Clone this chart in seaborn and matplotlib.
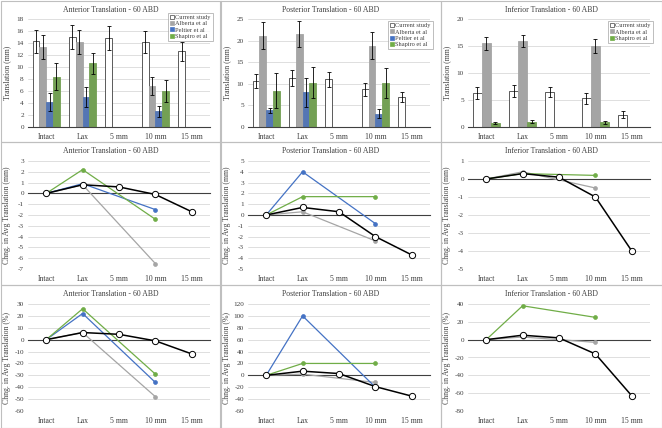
import numpy as np
import pandas as pd
import matplotlib
matplotlib.use("Agg")
import matplotlib.pyplot as plt
import seaborn as sns
from matplotlib.patches import Rectangle, Patch

# conditions along the x axis
categories = ["Intact", "Lax", "5 mm", "10 mm", "15 mm"]

# bar colours (Excel style) and line colours
bar_colours = {"Current study": "white", "Alberta et al": "#a5a5a5",
               "Peltier et al": "#4472c4", "Shapiro et al": "#70ad47"}
line_colours = {"Current study": "black", "Alberta et al": "#a5a5a5",
                "Peltier et al": "#4472c4", "Shapiro et al": "#70ad47"}

# ---- translation (mm), mean and error ----
ant_current = [14.3, 15.0, 14.8, 14.2, 12.6]
ant_current_err = [1.9, 2.0, 2.0, 1.8, 1.6]
ant_alberta = [13.4, 14.2, None, 6.9, None]
ant_alberta_err = [2.0, 2.0, None, 1.5, None]
ant_peltier = [4.1, 5.0, None, 2.6, None]
ant_peltier_err = [1.5, 1.7, None, 0.9, None]
ant_shapiro = [8.4, 10.6, None, 6.0, None]
ant_shapiro_err = [2.3, 1.8, None, 1.8, None]

post_current = [10.7, 11.4, 11.0, 8.7, 7.0]
post_current_err = [1.6, 1.8, 1.7, 1.5, 1.1]
post_alberta = [21.1, 21.5, None, 18.8, None]
post_alberta_err = [3.1, 3.0, None, 3.1, None]
post_peltier = [3.9, 8.0, None, 3.1, None]
post_peltier_err = [0.6, 3.4, None, 1.1, None]
post_shapiro = [8.4, 10.2, None, 10.2, None]
post_shapiro_err = [4.0, 3.6, None, 3.4, None]

inf_current = [6.3, 6.7, 6.5, 5.3, 2.3]
inf_current_err = [1.1, 1.1, 0.9, 1.0, 0.6]
inf_alberta = [15.5, 15.9, None, 15.0, None]
inf_alberta_err = [1.2, 1.1, None, 1.3, None]
inf_shapiro = [0.7, 1.0, None, 0.9, None]
inf_shapiro_err = [0.15, 0.25, None, 0.3, None]

# ---- change in average translation (mm) ----
ant_mm_current = [0, 0.8, 0.6, -0.1, -1.7]
ant_mm_alberta = [0, 0.8, None, -6.5, None]
ant_mm_peltier = [0, 0.9, None, -1.5, None]
ant_mm_shapiro = [0, 2.2, None, -2.4, None]

post_mm_current = [0, 0.7, 0.3, -2.0, -3.7]
post_mm_alberta = [0, 0.3, None, -2.4, None]
post_mm_peltier = [0, 4.0, None, -0.8, None]
post_mm_shapiro = [0, 1.7, None, 1.7, None]

inf_mm_current = [0, 0.3, 0.1, -1.0, -4.0]
inf_mm_alberta = [0, 0.4, None, -0.5, None]
inf_mm_shapiro = [0, 0.3, None, 0.2, None]

# ---- change in average translation (%) ----
ant_pct_current = [0, 6, 4.5, -1, -12]
ant_pct_alberta = [0, 6, None, -48, None]
ant_pct_peltier = [0, 22, None, -36, None]
ant_pct_shapiro = [0, 26, None, -29, None]

post_pct_current = [0, 7, 3, -19, -35]
post_pct_alberta = [0, 2, None, -12, None]
post_pct_peltier = [0, 100, None, -20, None]
post_pct_shapiro = [0, 20, None, 20, None]

inf_pct_current = [0, 5, 2, -16, -63]
inf_pct_alberta = [0, 3, None, -3, None]
inf_pct_shapiro = [0, 38, None, 25, None]

sns.set_theme(style="white")
plt.rcParams["font.family"] = ["Liberation Serif", "DejaVu Serif"]
plt.rcParams["axes.unicode_minus"] = False
TXT = "#404040"
AXC = "#404040"

W, H = 662, 428
fig = plt.figure(figsize=(W / 100, H / 100), dpi=100)

col_edges = [0.5, 220.5, 440.5, 661.5]
row_edges = [0.5, 142, 285, 427.5]
ax_tops = [19, 161, 304]
ax_bottoms = [127, 269, 411]


def make_ax(r, c):
    left = 28 + 220 * c
    return fig.add_axes([left / W, 1 - ax_bottoms[r] / H, 182 / W,
                         (ax_bottoms[r] - ax_tops[r]) / H])


def style_common(ax, r, c, title, ylabel, ylim, ystep):
    ax.set_ylim(*ylim)
    ax.set_yticks(np.arange(ylim[0], ylim[1] + ystep / 2, ystep))
    ax.yaxis.grid(True, color="#d9d9d9", lw=0.6)
    ax.set_axisbelow(True)
    for s in ["left", "top", "right"]:
        ax.spines[s].set_visible(False)
    ax.spines["bottom"].set_color(AXC)
    ax.spines["bottom"].set_linewidth(0.8)
    ax.tick_params(axis="y", length=0, labelsize=5.2, labelcolor=TXT, pad=3)
    ax.set_xlim(-0.5, len(categories) - 0.5)
    ax.set_xticks(np.arange(-0.5, len(categories), 1), minor=True)
    ax.set_xlabel("")
    ax.set_ylabel(ylabel, fontsize=5.6, color=TXT)
    ax.yaxis.set_label_coords(-(28 - 11) / 182, 0.5)
    cx = (col_edges[c] + col_edges[c + 1]) / 2
    fig.text(cx / W, 1 - (row_edges[r] + 9) / H, title, ha="center",
             va="center", fontsize=5.6, color=TXT)


def bar_panel(r, c, title, means, errs, ylim, ystep, anchor):
    ax = make_ax(r, c)
    names = list(means)
    rows = []
    for name in names:
        for cat, v in zip(categories, means[name]):
            if v is not None:
                rows.append({"Condition": cat, "Series": name, "Translation": v})
    df = pd.DataFrame(rows)
    sns.barplot(data=df, x="Condition", y="Translation", hue="Series",
                order=categories, hue_order=names, palette=bar_colours,
                width=0.75, errorbar=None, legend=False, linewidth=0.6, ax=ax)
    for name, cont in zip(names, ax.containers):
        for bar in cont:
            bar.set_edgecolor("#404040" if name == "Current study" else bar.get_facecolor())
            xc = bar.get_x() + bar.get_width() / 2
            idx = int(round(xc))
            ax.errorbar(xc, bar.get_height(), yerr=errs[name][idx], fmt="none",
                        ecolor="black", elinewidth=0.6, capsize=1.5, capthick=0.6)
    style_common(ax, r, c, title, "Translation (mm)", ylim, ystep)
    ax.set_xticks(range(len(categories)), categories)
    ax.tick_params(axis="x", which="major", length=0, labelsize=5.6,
                   labelcolor=TXT, pad=4)
    ax.tick_params(axis="x", which="minor", length=2.5, width=0.6,
                   direction="in", color=AXC)
    handles = [Patch(facecolor=bar_colours[n],
                     edgecolor="#404040" if n == "Current study" else bar_colours[n],
                     lw=0.5, label=n) for n in names]
    leg = ax.legend(handles=handles, loc="upper right", bbox_to_anchor=anchor,
                    fontsize=4.6, frameon=True, fancybox=False,
                    edgecolor="#a0a0a0", borderpad=0.3, handlelength=0.6,
                    handleheight=0.6, handletextpad=0.3, labelspacing=0.15,
                    borderaxespad=0)
    leg.get_frame().set_linewidth(0.6)
    for t in leg.get_texts():
        t.set_color(TXT)


def line_panel(r, c, title, changes, ylabel, ylim, ystep):
    ax = make_ax(r, c)
    for name, vals in changes.items():
        df = pd.DataFrame({"Position": range(len(categories)), "Change": vals}).dropna()
        if name == "Current study":
            sns.lineplot(data=df, x="Position", y="Change", color="black", lw=1.1,
                         marker="o", markersize=4.5, markerfacecolor="white",
                         markeredgecolor="black", markeredgewidth=0.7,
                         zorder=5, ax=ax)
        else:
            sns.lineplot(data=df, x="Position", y="Change", color=line_colours[name],
                         lw=0.9, marker="o", markersize=2.8,
                         markeredgecolor=line_colours[name], markeredgewidth=0.5,
                         zorder=3, ax=ax)
    style_common(ax, r, c, title, ylabel, ylim, ystep)
    ax.spines["bottom"].set_position(("data", 0))
    ax.set_xticks(range(len(categories)))
    ax.tick_params(axis="x", which="major", length=0, labelbottom=False)
    ax.tick_params(axis="x", which="minor", length=3, width=0.6,
                   direction="inout", color=AXC)
    sec = ax.secondary_xaxis(0.0)
    sec.set_xticks(range(len(categories)), categories)
    sec.tick_params(length=0, labelsize=5.6, labelcolor=TXT, pad=4)
    sec.spines["bottom"].set_visible(False)


bar_panel(0, 0, "Anterior Translation - 60 ABD",
          {"Current study": ant_current, "Alberta et al": ant_alberta,
           "Peltier et al": ant_peltier, "Shapiro et al": ant_shapiro},
          {"Current study": ant_current_err, "Alberta et al": ant_alberta_err,
           "Peltier et al": ant_peltier_err, "Shapiro et al": ant_shapiro_err},
          (0, 18), 2, (1.016, 1.056))
bar_panel(0, 1, "Posterior Translation - 60 ABD",
          {"Current study": post_current, "Alberta et al": post_alberta,
           "Peltier et al": post_peltier, "Shapiro et al": post_shapiro},
          {"Current study": post_current_err, "Alberta et al": post_alberta_err,
           "Peltier et al": post_peltier_err, "Shapiro et al": post_shapiro_err},
          (0, 25), 5, (1.016, 0.98))
bar_panel(0, 2, "Inferior Translation - 60 ABD",
          {"Current study": inf_current, "Alberta et al": inf_alberta,
           "Shapiro et al": inf_shapiro},
          {"Current study": inf_current_err, "Alberta et al": inf_alberta_err,
           "Shapiro et al": inf_shapiro_err},
          (0, 20), 5, (1.016, 0.98))

line_panel(1, 0, "Anterior Translation - 60 ABD",
           {"Alberta et al": ant_mm_alberta, "Peltier et al": ant_mm_peltier,
            "Shapiro et al": ant_mm_shapiro, "Current study": ant_mm_current},
           "Chng. in Avg Translation (mm)", (-7, 3), 1)
line_panel(1, 1, "Posterior Translation - 60 ABD",
           {"Alberta et al": post_mm_alberta, "Peltier et al": post_mm_peltier,
            "Shapiro et al": post_mm_shapiro, "Current study": post_mm_current},
           "Chng. in Avg Translation (mm)", (-5, 5), 1)
line_panel(1, 2, "Inferior Translation - 60 ABD",
           {"Alberta et al": inf_mm_alberta, "Shapiro et al": inf_mm_shapiro,
            "Current study": inf_mm_current},
           "Chng. in Avg Translation (mm)", (-5, 1), 1)

line_panel(2, 0, "Anterior Translation - 60 ABD",
           {"Alberta et al": ant_pct_alberta, "Peltier et al": ant_pct_peltier,
            "Shapiro et al": ant_pct_shapiro, "Current study": ant_pct_current},
           "Chng. in Avg Translation (%)", (-60, 30), 10)
line_panel(2, 1, "Posterior Translation - 60 ABD",
           {"Alberta et al": post_pct_alberta, "Peltier et al": post_pct_peltier,
            "Shapiro et al": post_pct_shapiro, "Current study": post_pct_current},
           "Chng. in Avg Translation (%)", (-60, 120), 20)
line_panel(2, 2, "Inferior Translation - 60 ABD",
           {"Alberta et al": inf_pct_alberta, "Shapiro et al": inf_pct_shapiro,
            "Current study": inf_pct_current},
           "Chng. in Avg Translation (%)", (-80, 40), 20)

# light grey frame around each chart panel
for r in range(3):
    for c in range(3):
        x0, x1 = col_edges[c], col_edges[c + 1]
        y0, y1 = row_edges[r], row_edges[r + 1]
        fig.add_artist(Rectangle((x0 / W, 1 - y1 / H), (x1 - x0) / W, (y1 - y0) / H,
                                 transform=fig.transFigure, fill=False,
                                 edgecolor="#bfbfbf", lw=0.8))

fig.savefig("out.png", dpi=100)
